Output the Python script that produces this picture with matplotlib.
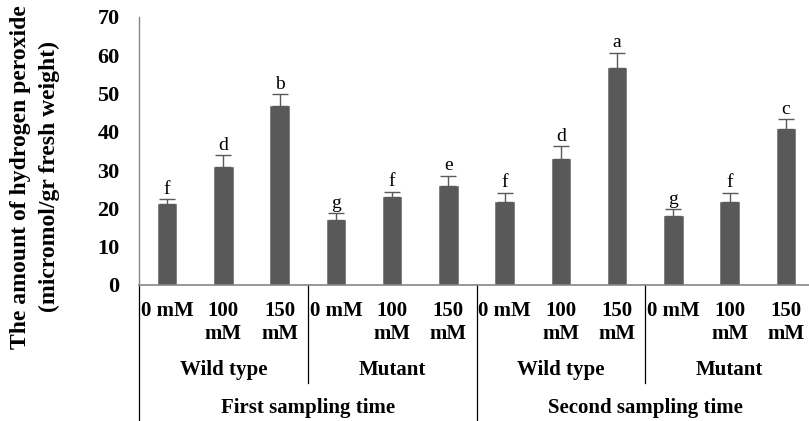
import matplotlib.pyplot as plt
from matplotlib.lines import Line2D
import numpy as np

# hydrogen peroxide content
doses   = ["0 mM", "100\nmM", "150\nmM"] * 4
means   = [21.1, 30.9, 46.8, 17.0, 23.1, 25.9, 21.8, 32.9, 56.7, 18.1, 21.8, 40.7]
errors  = [1.3, 3.0, 3.1, 1.7, 1.3, 2.6, 2.3, 3.4, 4.0, 1.7, 2.3, 2.6]
letters = ["f", "d", "b", "g", "f", "e", "f", "d", "a", "g", "f", "c"]
genotypes = ["Wild type", "Mutant", "Wild type", "Mutant"]
times     = ["First sampling time", "Second sampling time"]

W, H = 809, 421
BAR_COLOR = "#595959"
SERIF = ["Liberation Serif", "DejaVu Serif"]

plt.rcParams["font.family"] = SERIF

fig = plt.figure(figsize=(W / 100, H / 100), dpi=100)
# axes box in pixel terms: x 139..814, y 17..285 (from top)
ax = fig.add_axes([139 / W, 1 - 285 / H, (814 - 139) / W, (285 - 17) / H])

x = np.arange(len(means))
ax.bar(x, means, width=0.33, color=BAR_COLOR, edgecolor="#7a7a7a", linewidth=0.6, zorder=2)
ax.errorbar(x, means, yerr=[np.zeros(len(errors)), errors], fmt="none",
            ecolor=BAR_COLOR, elinewidth=1.0, capsize=5.5, capthick=1.0, zorder=3)

for xi, m, e, l in zip(x, means, errors, letters):
    ax.annotate(l, (xi, m + e), xytext=(0, 1), textcoords="offset points",
                ha="center", va="bottom", fontsize=14)

ax.set_xlim(-0.5, len(means) - 0.5)
ax.set_ylim(0, 70)
ax.set_yticks(range(0, 71, 10))
ax.set_xticks([])
ax.tick_params(axis="y", length=0, pad=14, labelsize=16)
for t in ax.get_yticklabels():
    t.set_fontweight("bold")

for side in ["top", "right"]:
    ax.spines[side].set_visible(False)
ax.spines["left"].set_color("#868686")
ax.spines["bottom"].set_color("#868686")
ax.spines["left"].set_linewidth(1.0)
ax.spines["bottom"].set_linewidth(1.2)

# multi-level category axis
trans = ax.get_xaxis_transform()
ax_h = 285 - 17


def yfrac(py):
    return (285 - py) / ax_h


for xi, d in zip(x, doses):
    ax.text(xi, yfrac(301), d, transform=trans, ha="center", va="top",
            fontsize=15, fontweight="bold", linespacing=1.2)

for i, g in enumerate(genotypes):
    ax.text(3 * i + 1, yfrac(370), g, transform=trans, ha="center", va="center",
            fontsize=15, fontweight="bold")

for i, t in enumerate(times):
    ax.text(6 * i + 2.5, yfrac(408), t, transform=trans, ha="center", va="center",
            fontsize=15, fontweight="bold")

for xs in [2.5, 8.5]:
    ax.add_line(Line2D([xs, xs], [0, yfrac(383)], transform=trans, color="black",
                       linewidth=0.9, clip_on=False))
for xs in [-0.5, 5.5, 11.5]:
    ax.add_line(Line2D([xs, xs], [0, yfrac(421)], transform=trans, color="black",
                       linewidth=0.9, clip_on=False))

fig.text(21 / W, 1 - 177 / H, "The amount of hydrogen peroxide", rotation=90,
         ha="center", va="center", fontsize=17, fontweight="bold")
fig.text(49 / W, 1 - 177 / H, "(micromol/gr fresh weight)", rotation=90,
         ha="center", va="center", fontsize=17, fontweight="bold")

fig.savefig("out.png", dpi=100)
